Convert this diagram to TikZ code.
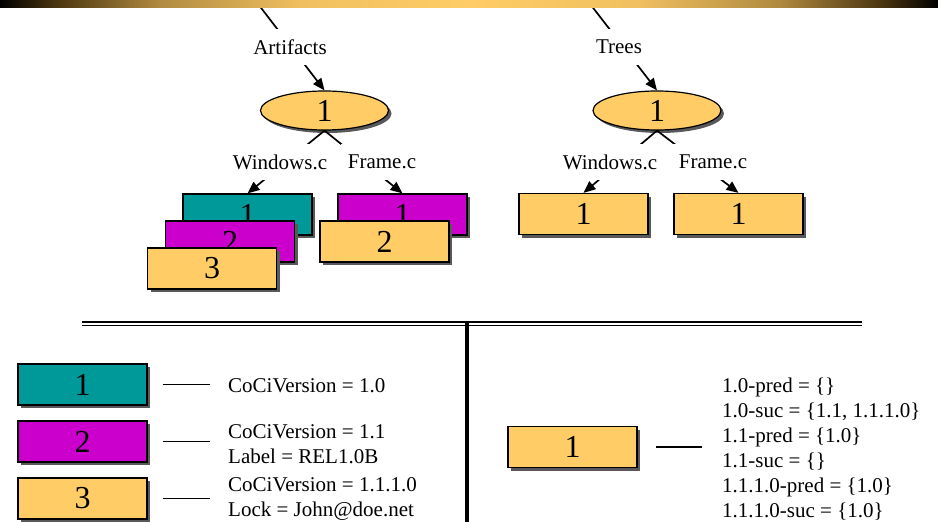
\documentclass[tikz,border=0pt]{standalone}
\usepackage{fontspec}
\setmainfont{Liberation Serif}
\usetikzlibrary{shapes.geometric,shadows,arrows.meta}
\definecolor{gold}{HTML}{FFCC66}
\definecolor{tealv}{HTML}{009999}
\definecolor{magv}{HTML}{CC00CC}
\definecolor{barbrown}{HTML}{4A3510}
\definecolor{barmid}{HTML}{B08A40}
\definecolor{barlight}{HTML}{F0C060}
% header bar: black at both ends, gold in the middle
\pgfdeclarehorizontalshading{headerbar}{100bp}{color(0bp)=(black); color(25bp)=(black);
  color(28bp)=(barbrown); color(33.5bp)=(barmid); color(41bp)=(barlight);
  color(50bp)=(gold); color(59bp)=(barlight); color(66.5bp)=(barmid);
  color(72bp)=(barbrown); color(75bp)=(black); color(100bp)=(black)}
\begin{document}
\begin{tikzpicture}[x=1pt,y=-1pt,
  shadowed/.style={drop shadow={shadow xshift=3pt,shadow yshift=-3pt,opacity=1,fill=black!65}},
  ver/.style={draw,line width=1.2pt,shadowed,minimum width=129pt,minimum height=41pt,
    inner sep=0pt,font=\fontsize{32}{32}\selectfont},
  ell/.style={ellipse,draw,line width=1.2pt,fill=gold,shadowed,minimum width=128pt,
    minimum height=39pt,inner sep=0pt,font=\fontsize{32}{32}\selectfont},
  lbl/.style={fill=white,inner xsep=7pt,inner ysep=0pt,minimum height=36pt,
    font=\fontsize{21}{25}\selectfont},
  conn/.style={line width=1.7pt},
  arr/.style={conn,-{Triangle[length=12pt,width=10pt]}},
  note/.style={anchor=west,align=left,inner sep=0pt,font=\fontsize{21}{25}\selectfont}]

\useasboundingbox (0,0) rectangle (938,522);

% ---------- Artifacts tree ----------
\node[ell] (e1) at (324.5,110.5) {1};
\node[ver,fill=tealv] (b1) at (247.5,214.5) {1};
\node[ver,fill=magv]  (b2) at (230,241.5) {2};
\node[ver,fill=gold]  (b3) at (212,268.5) {3};
\node[ver,fill=magv]  (m1) at (402.5,214.5) {1};
\node[ver,fill=gold]  (m2) at (384.5,241.5) {2};

\coordinate (pA) at (255,0);
\draw[arr] (pA) -- (e1.north);
\draw[arr] (e1.south) -- (b1.north);
\draw[arr] (e1.south) -- (m1.north);

\node[lbl] (art) at (290,47) {Artifacts};
\node[lbl] (wa) at (280,162) {Windows.c};
\node[lbl] (fa) at (382,162) {Frame.c};

% ---------- Trees ----------
\node[ell] (e2) at (657,110.5) {1};
\node[ver,fill=gold] (g1) at (583.5,214) {1};
\node[ver,fill=gold] (g2) at (738.5,214) {1};

\coordinate (pT) at (587,0);
\draw[arr] (pT) -- (e2.north);
\draw[arr] (e2.south) -- (g1.north);
\draw[arr] (e2.south) -- (g2.north);

\node[lbl] (tr) at (619,47) {Trees};
\node[lbl] (wt) at (610,162) {Windows.c};
\node[lbl] (ft) at (713,162) {Frame.c};

% ---------- header bar ----------
\shade[shading=headerbar] (0,0) rectangle (938,7);

% ---------- separators ----------
\draw[line width=1.3pt] (82,322) -- (862,322);
\draw[line width=1.3pt] (82,325.5) -- (862,325.5);
\draw[line width=4pt] (467,323) -- (467,522);

% ---------- attribute legend ----------
\node[ver,fill=tealv] (L1) at (82.5,384.5) {1};
\node[ver,fill=magv]  (L2) at (82.5,441.5) {2};
\node[ver,fill=gold]  (L3) at (82.5,498.5) {3};

\node[note] (t1) at (228,386) {CoCiVersion = 1.0};
\node[note] (t2) at (228,444.5) {CoCiVersion = 1.1\\Label = REL1.0B};
\node[note] (t3) at (228,499.5) {CoCiVersion = 1.1.1.0\\Lock = John@doe.net};

\draw[conn] ([xshift=15pt]L1.east) -- ([xshift=-18pt]L1.east -| t1.west);
\draw[conn] ([xshift=15pt]L2.east) -- ([xshift=-18pt]L2.east -| t2.west);
\draw[conn] ([xshift=15pt]L3.east) -- ([xshift=-18pt]L3.east -| t3.west);

% ---------- tree attributes ----------
\node[ver,fill=gold] (R1) at (572.5,447) {1};
\node[note] (t4) at (722,449) {1.0-pred = \{\}\\1.0-suc = \{1.1, 1.1.1.0\}\\1.1-pred = \{1.0\}\\1.1-suc = \{\}\\1.1.1.0-pred = \{1.0\}\\1.1.1.0-suc = \{1.0\}};
\draw[conn] ([xshift=18pt]R1.east) -- ([xshift=-20pt]R1.east -| t4.west);
\end{tikzpicture}
\end{document}
